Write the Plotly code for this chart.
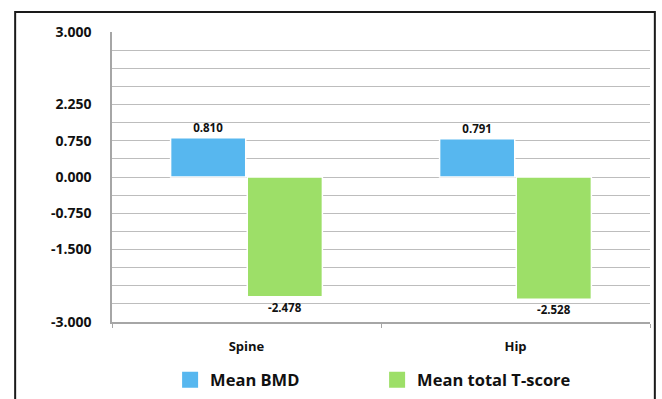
import plotly.graph_objects as go

# Sites measured and the two summary series
sites = ["Spine", "Hip"]
mean_bmd = [0.810, 0.791]
mean_t_score = [-2.478, -2.528]

# Y-axis labels as printed on the chart
tick_positions = [3.0, 1.5, 0.75, 0.0, -0.75, -1.5, -3.0]
tick_labels = ["3.000", "2.250", "0.750", "0.000", "-0.750", "-1.500", "-3.000"]

FONT = "'Open Sans', sans-serif"
BLUE = "#57B7EF"
GREEN = "#9DDF68"
GRID = "#BDBDBD"
TEXT = "#111111"

series = [("Mean BMD", mean_bmd, BLUE),
          ("Mean total T-score", mean_t_score, GREEN)]

fig = go.Figure()
for name, vals, color in series:
    fig.add_trace(go.Bar(
        x=sites, y=vals, name=name, showlegend=False,
        marker=dict(color=color, line=dict(color="white", width=1.5)),
        texttemplate="%{y:.3f}", textposition="outside",
        textfont=dict(family=FONT, size=11.5, color=TEXT, weight="bold"),
        cliponaxis=False,
    ))
# Legend entries drawn as larger square swatches
for name, vals, color in series:
    fig.add_trace(go.Scatter(
        x=[None], y=[None], mode="markers", name=name,
        marker=dict(symbol="square", size=16, color=color),
    ))

fig.update_layout(
    width=662, height=399,
    margin=dict(l=112, r=12, t=32, b=77, autoexpand=False),
    paper_bgcolor="white", plot_bgcolor="white",
    font=dict(family=FONT, color=TEXT),
    barmode="group", bargap=0.43, bargroupgap=0.02,
    showlegend=True,
    legend=dict(
        orientation="h", x=0.108, xanchor="left", y=-0.2, yanchor="middle",
        font=dict(family=FONT, size=16.5, color=TEXT, weight="bold"),
        entrywidth=162, itemsizing="trace",
    ),
)

fig.update_yaxes(
    range=[-3, 3], tickmode="array",
    tickvals=tick_positions, ticktext=tick_labels,
    tickfont=dict(family=FONT, size=14, color=TEXT, weight="bold"),
    ticklabelstandoff=16,
    showgrid=True, gridcolor=GRID, gridwidth=1,
    minor=dict(tickmode="linear", tick0=-3, dtick=0.375,
               showgrid=True, gridcolor=GRID, gridwidth=1),
    zeroline=False,
    showline=True, linecolor="#A6A6A6", linewidth=1.5,
)
fig.update_xaxes(
    tickfont=dict(family=FONT, size=13, color=TEXT, weight="bold"),
    showline=True, linecolor="#A6A6A6", linewidth=1.5,
    ticks="outside", tickson="boundaries", ticklen=4, tickcolor="#A6A6A6",
    ticklabelstandoff=12,
    showgrid=False,
)

# Outer frame around the whole chart (open at the bottom edge)
fig.add_shape(type="path", xref="paper", yref="paper",
              path="M -0.180,-0.30 L -0.180,1.069 L 1.009,1.069 L 1.009,-0.30",
              line=dict(color="#1A1A1A", width=2))

fig.write_html("out.html")
